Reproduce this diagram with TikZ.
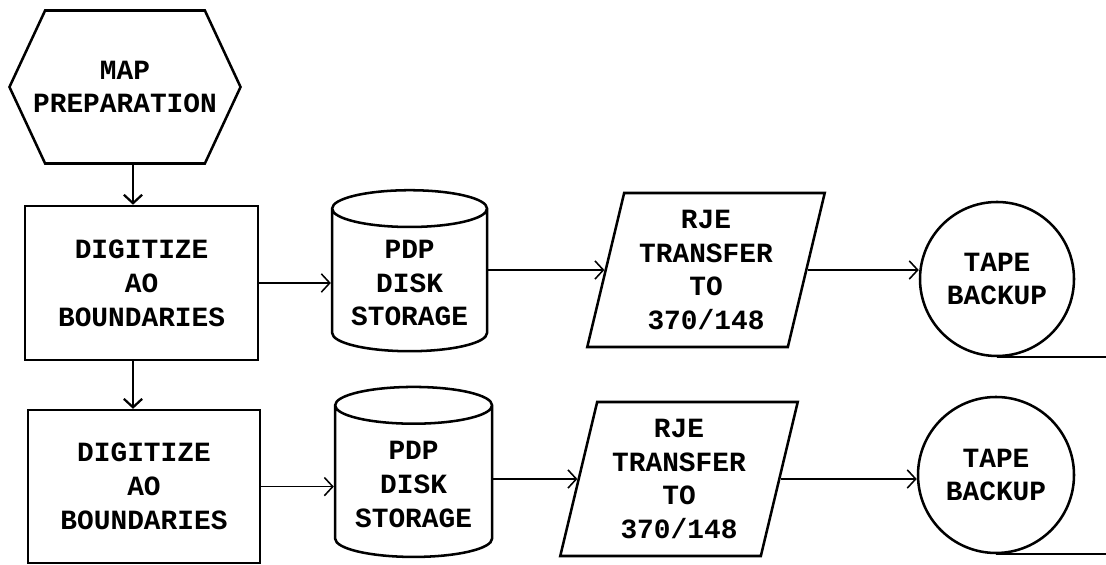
\documentclass[tikz,border=0pt]{standalone}
\usepackage{fontspec}
\newfontfamily\typefont{Liberation Mono}
\usetikzlibrary{arrows.meta,shapes.geometric,shapes.symbols}
\tikzset{
	chart/.style={draw, line width=1.8pt, align=center, inner sep=2pt,
		font=\typefont\bfseries\fontsize{19.8}{24.1}\selectfont},
	manual/.style={chart, signal, signal to=west and east, signal pointer angle=130, inner xsep=-0.3cm},
	process/.style={chart, rectangle},
	disk/.style={chart, cylinder, shape border rotate=90, aspect=0.3},
	transfer/.style={chart, trapezium, trapezium left angle=76, trapezium right angle=104, trapezium stretches=true},
	tape/.style={chart, circle},
	flow/.style={-{Straight Barb[length=6pt,width=13pt]}, line width=1.1pt}
}

\begin{document}
\begin{tikzpicture}
			%%%%% START %%%%%
			\useasboundingbox (0, 0) rectangle (27.65, 14.125);
			\coordinate (spine) at (3.325, 0);
			\coordinate (edge) at (27.65, 0);
			
			\node[manual, minimum width=5.75cm, minimum height=3.825cm] (map) at (3.125, 11.95) {MAP\\PREPARATION};
			
			\node[process, minimum width=5.83cm, minimum height=3.85cm] (digA) at (3.54, 7.05) {DIGITIZE\\AO\\BOUNDARIES};
			\node[process, minimum width=5.8cm, minimum height=3.825cm] (digB) at (3.6, 1.96) {DIGITIZE\\AO\\BOUNDARIES};
			
			\node[disk, minimum width=3.875cm, minimum height=4.025cm] (pdpA) at (10.24, 7.05) {PDP\\DISK\\STORAGE};
			\node[disk, minimum width=3.925cm, minimum height=4.25cm] (pdpB) at (10.34, 2.02) {PDP\\DISK\\STORAGE};
			
			\node[transfer, minimum width=5.95cm, minimum height=3.85cm] (rjeA) at (17.65, 7.375) {RJE\\TRANSFER\\TO\\370/148};
			\node[transfer, minimum width=5.95cm, minimum height=3.85cm] (rjeB) at (16.975, 2.15) {RJE\\TRANSFER\\TO\\370/148};
			
			\node[tape, minimum size=3.85cm] (tapeA) at (24.925, 7.15) {TAPE\\BACKUP};
			\node[tape, minimum size=3.9cm] (tapeB) at (24.9, 2.25) {TAPE\\BACKUP};
			\draw[line width=1.5pt] (tapeA.south) -- (tapeA.south -| edge);
			\draw[line width=1.5pt] (tapeB.south) -- (tapeB.south -| edge);
			
			\draw[flow, line width=1.6pt] (spine |- map.south) -- (spine |- digA.north);
			\draw[flow, line width=1.6pt] (spine |- digA.south) -- (spine |- digB.north);
			
			\draw[flow] (digA.east) -- (digA.east -| pdpA.west);
			\draw[flow] (pdpA.east |- rjeA.west) -- (rjeA.west);
			\draw[flow] (rjeA.east) -- (rjeA.east -| tapeA.west);
			
			\draw[flow] (digB.east) -- (digB.east -| pdpB.west);
			\draw[flow] (pdpB.east |- rjeB.west) -- (rjeB.west);
			\draw[flow] (rjeB.east) -- (rjeB.east -| tapeB.west);
			%%%%% END %%%%%
\end{tikzpicture}
\end{document}
